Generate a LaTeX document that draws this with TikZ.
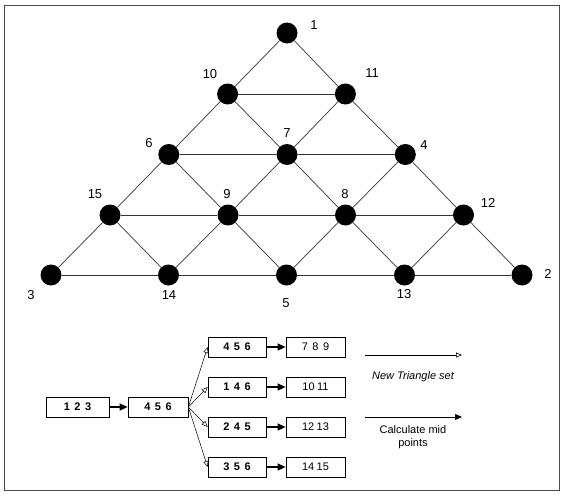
\documentclass[tikz,border=0pt]{standalone}
\usepackage{fontspec}
\setmainfont{Liberation Sans}
\usetikzlibrary{arrows.meta}
\newcommand\gapd{\hspace{4.5pt}}
\begin{document}
\begin{tikzpicture}[x=1pt,y=-1pt,
  dot/.style={circle,fill=black,minimum size=21pt,inner sep=0pt},
  lbl/.style={font=\fontsize{13}{13}\selectfont,inner sep=0pt},
  edge/.style={draw=black!80,line width=0.7pt},
  setbox/.style={draw,line width=0.7pt,minimum width=59pt,minimum height=20pt,inner sep=0pt,font=\fontsize{11}{11}\selectfont\bfseries},
  midbox/.style={setbox,font=\fontsize{11}{11}\selectfont},
  calc/.style={line width=1.4pt,-{Triangle[length=8pt,width=7pt]}},
  split/.style={line width=0.5pt,-{Triangle[open,length=6pt,width=5pt]}},
  legend/.style={font=\fontsize{11}{13}\selectfont,align=center,inner sep=0pt},
]
\useasboundingbox (0,0) rectangle (563,498);
\draw[black!70,line width=0.6pt] (4,5) rectangle (559,490);

% subdivided triangle: vertices
\node[dot] (n1)  at (287,33) {};
\node[dot] (n10) at (227.6,94) {};
\node[dot] (n11) at (345.4,94) {};
\node[dot] (n6)  at (168.8,154.5) {};
\node[dot] (n7)  at (287,154.5) {};
\node[dot] (n4)  at (405.3,154.5) {};
\node[dot] (n15) at (110,215) {};
\node[dot] (n9)  at (228,215) {};
\node[dot] (n8)  at (345.5,215) {};
\node[dot] (n12) at (463.5,215) {};
\node[dot] (n3)  at (51,275) {};
\node[dot] (n14) at (168.5,275) {};
\node[dot] (n5)  at (286.5,275) {};
\node[dot] (n13) at (404.5,275) {};
\node[dot] (n2)  at (522,275) {};

% vertex numbers
\node[lbl] (l1)  at (314,25) {1};
\node[lbl] (l10) at (210,74) {10};
\node[lbl] (l11) at (372,73) {11};
\node[lbl] (l6)  at (149,143) {6};
\node[lbl] (l7)  at (287,133) {7};
\node[lbl] (l4)  at (424,145) {4};
\node[lbl] (l15) at (95,194) {15};
\node[lbl] (l9)  at (227,194) {9};
\node[lbl] (l8)  at (345,194) {8};
\node[lbl] (l12) at (488,203) {12};
\node[lbl] (l3)  at (31,295) {3};
\node[lbl] (l14) at (169,295) {14};
\node[lbl] (l5)  at (286,303) {5};
\node[lbl] (l13) at (404,294) {13};
\node[lbl] (l2)  at (548,274) {2};

% horizontal edges
\path[edge] (n10) -- (n11);
\path[edge] (n6) -- (n7) (n7) -- (n4);
\path[edge] (n15) -- (n9) (n9) -- (n8) (n8) -- (n12);
\path[edge] (n3) -- (n14) (n14) -- (n5) (n5) -- (n13) (n13) -- (n2);
% slanted edges
\path[edge] (n1) -- (n10) (n1) -- (n11);
\path[edge] (n10) -- (n6) (n10) -- (n7) (n11) -- (n7) (n11) -- (n4);
\path[edge] (n6) -- (n15) (n6) -- (n9) (n7) -- (n9) (n7) -- (n8) (n4) -- (n8) (n4) -- (n12);
\path[edge] (n15) -- (n3) (n15) -- (n14) (n9) -- (n14) (n9) -- (n5)
            (n8) -- (n5) (n8) -- (n13) (n12) -- (n13) (n12) -- (n2);

% triangle sets and their mid points
\node[setbox,minimum width=63pt] (b123) at (77.5,407) {1\gapd2\gapd3};
\node[setbox,minimum width=60pt] (b456) at (158,407) {4\gapd5\gapd6};
\node[setbox,minimum width=58pt] (t1) at (237,347) {4\gapd5\gapd6};
\node[setbox,minimum width=58pt] (t2) at (237,387) {1\gapd4\gapd6};
\node[setbox,minimum width=58pt] (t3) at (237,427) {2\gapd4\gapd5};
\node[setbox,minimum width=58pt] (t4) at (237,467) {3\gapd5\gapd6};
\node[midbox] (m1) at (315.5,347) {7\gapd8\gapd9};
\node[midbox] (m2) at (315.5,387) {10\hspace{2.5pt}11};
\node[midbox] (m3) at (315.5,427) {12\hspace{2.5pt}13};
\node[midbox] (m4) at (315.5,467) {14\hspace{2.5pt}15};

\draw[calc] (b123) -- (b456);
\draw[split] (b456.east) -- (t1.west);
\draw[split] (b456.east) -- (t2.west);
\draw[split] (b456.east) -- (t3.west);
\draw[split] (b456.east) -- (t4.west);
\draw[calc] (t1) -- (m1);
\draw[calc] (t2) -- (m2);
\draw[calc] (t3) -- (m3);
\draw[calc] (t4) -- (m4);

% key
\coordinate (k1a) at (365,355);
\coordinate (k1b) at (462,355);
\coordinate (k2a) at (365,417);
\coordinate (k2b) at (462,417);
\draw[line width=0.6pt,-{Triangle[open,length=6pt,width=5pt]}] (k1a) -- (k1b);
\draw[line width=0.6pt,-{Triangle[length=7pt,width=6pt]}] (k2a) -- (k2b);
\node[legend,font=\fontsize{11}{13}\selectfont\itshape] (kt1) at (413,377) {New Triangle set};
\node[legend] (kt2) at (413,437) {Calculate mid\\points};
\end{tikzpicture}
\end{document}
